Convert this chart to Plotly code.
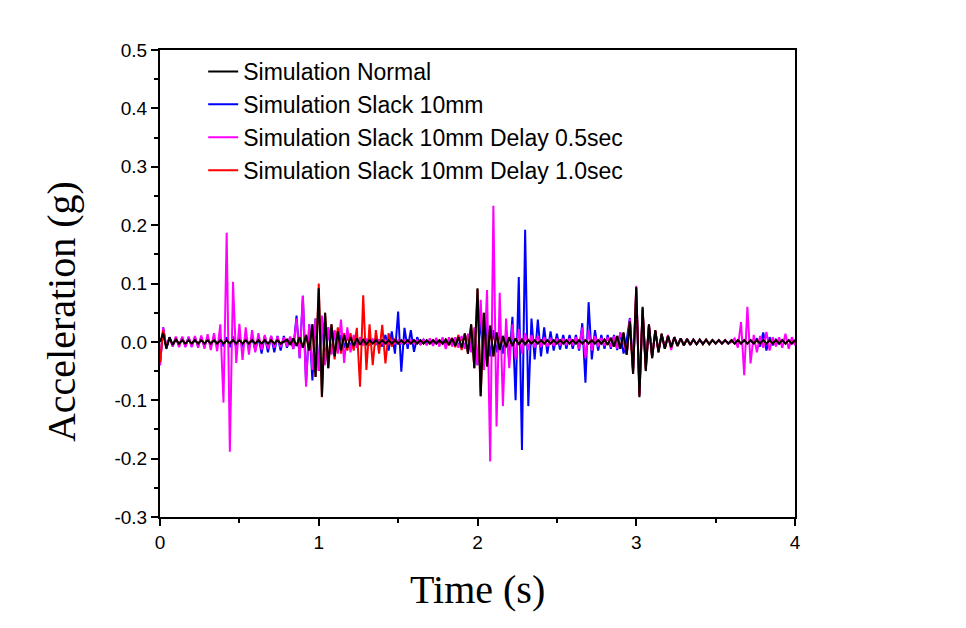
import numpy as np
import plotly.graph_objects as go

# Sample times (s): uniform 0.02 s grid from 0 to 4 s (201 samples)
time_s = np.linspace(0, 4, 201)

# Accelerations in milli-g, one value per 0.02 s sample
normal_mg = [
    0, 15, -12, 8, -5, 4, -3, 3, -3, 3,
    -3, 3, -3, 3, -3, 3, -3, 3, -3, 3,
    -3, 3, -3, 3, -3, 3, -3, 3, -3, 3,
    -3, 3, -3, 3, -3, 3, -3, 3, -3, 0,
    4, -5, 6, -7, 8, -10, 12, -15, 30, -60,
    92, -94, 50, -45, 30, -25, 18, -15, 12, -10,
    8, -7, 6, -5, 4, -4, 3, -3, 3, -3,
    3, -3, 3, -3, 3, -3, 3, -3, 3, -3,
    3, -3, 3, -3, 3, -3, 3, -3, 3, -3,
    4, -5, 6, -7, 8, -10, 14, -20, 30, -45,
    92, -93, 50, -42, 28, -25, 16, -14, 10, -9,
    8, -7, 6, -5, 4, -4, 3, -3, 3, -3,
    3, -3, 3, -3, 3, -3, 3, -3, 3, -3,
    3, -3, 3, -3, 3, -3, 3, -3, 3, -3,
    4, -5, 7, -8, 10, -12, 16, -22, 35, -55,
    94, -95, 60, -50, 30, -28, 20, -18, 14, -12,
    10, -9, 8, -7, 6, -6, 5, -5, 4, -4,
    4, -4, 4, -4, 3, -3, 3, -3, 3, -3,
    3, -3, 3, -3, 3, -3, 3, -3, 3, -3,
    3, -3, 3, -3, 3, -3, 3, -3, 3, -3,
    3,
]

slack_mg = [
    -40, 25, -10, 8, -8, 8, -8, 8, -8, 8,
    -8, 8, -8, 8, -8, 8, -8, 8, -8, 8,
    -8, 8, -9, 9, -9, 9, -9, 9, -9, 9,
    -15, 8, -20, 10, -18, 10, -18, 10, -15, 10,
    -10, 8, -12, 45, -28, 79, -70, 30, -66, 40,
    -50, 40, -35, 25, -20, 18, -15, 12, -10, 10,
    -8, 8, -7, 6, -5, 5, -4, 4, -4, 4,
    -8, 12, -15, 18, -20, 52, -51, 24, -12, 20,
    -17, 8, -5, 4, -3, 3, -3, 3, -3, 3,
    -3, 3, -5, 6, -7, 8, -10, 12, -15, 20,
    -40, 40, -35, 30, -25, 20, -18, 15, -20, 15,
    -31, 43, -100, 111, -185, 192, -110, 40, -30, 38,
    -25, 25, -20, 18, -15, 14, -13, 12, -12, 12,
    -12, 12, -15, 32, -70, 68, -30, 20, -15, 12,
    -12, 12, -12, 12, -14, 16, -20, 4, 41, -50,
    80, -80, 50, -40, 28, -25, 18, -15, 12, -10,
    10, -9, 8, -7, 6, -6, 5, -5, 4, -4,
    3, -3, 3, -3, 3, -3, 3, -3, 3, -3,
    3, -3, 3, -3, 3, -3, 3, -3, 6, -8,
    16, -15, 8, -6, 4, -3, 3, -3, 3, -3,
    3,
]

delay05_mg = [
    -40, 25, -10, 8, -8, 9, -9, 9, -9, 9,
    -9, 10, -10, 11, -12, 13, -14, 15, -16, 30,
    -104, 187, -188, 103, -36, 31, -31, 25, -22, 20,
    -18, 15, -14, 12, -12, 10, -10, 9, -9, 8,
    -8, 9, -12, 40, -28, 79, -77, 30, -48, 40,
    -50, 45, -40, 25, -22, 20, -20, 38, -36, 25,
    -18, 12, -10, 8, -6, 5, -4, 4, -3, 3,
    -3, 3, -3, 3, -3, 3, -3, 3, -3, 3,
    -3, 3, -4, 4, -6, 6, -7, 7, -8, 8,
    -12, 8, -8, 8, -10, 10, -12, 14, -18, 25,
    -40, 72, -48, 89, -205, 233, -145, 84, -110, 40,
    -45, 30, -30, 22, -20, 15, -14, 12, -10, 10,
    -9, 8, -8, 7, -7, 6, -6, 6, -6, 6,
    -6, 8, -12, 25, -28, 20, -15, 10, -8, 7,
    -7, 8, -9, 10, -12, 15, 0, -22, 40, -50,
    96, -90, 55, -45, 28, -25, 18, -16, 12, -10,
    12, -14, 8, -7, 6, -5, 4, -4, 3, -3,
    3, -3, 3, -3, 3, -3, 3, -3, 3, -3,
    0, 6, -10, 34, -57, 60, -37, 12, -18, 10,
    -10, 17, -15, 8, -8, 8, -10, 14, -12, 8,
    -6,
]

delay10_mg = [
    -35, 20, -10, 6, -5, 4, -3, 3, -3, 3,
    -3, 3, -3, 3, -3, 3, -3, 3, -3, 3,
    -3, 3, -3, 3, -3, 3, -3, 3, -3, 3,
    -3, 3, -3, 3, -3, 3, -3, 3, -3, 0,
    4, -5, 6, -7, 8, -10, 12, -15, 30, -60,
    100, -95, 50, -45, 30, -30, 25, -20, 15, -15,
    15, -15, 24, -77, 80, -48, 30, -40, 20, -20,
    29, -37, 15, -8, 4, -3, 3, -3, 3, -3,
    3, -3, 3, -3, 3, -3, 3, -3, 3, -3,
    4, -6, 7, -9, 12, -14, 15, -20, 30, -45,
    90, -93, 50, -42, 28, -25, 16, -14, 10, -9,
    8, -7, 6, -5, 4, -4, 3, -3, 3, -3,
    3, -3, 3, -3, 3, -3, 3, -3, 3, -3,
    3, -3, 3, -3, 3, -3, 3, -3, 3, -3,
    4, -5, 7, -8, 10, -12, 16, -22, 35, -55,
    92, -93, 58, -48, 30, -28, 20, -18, 14, -12,
    10, -9, 8, -7, 6, -6, 5, -5, 4, -4,
    4, -4, 4, -4, 3, -3, 3, -3, 3, -3,
    3, -3, 3, -3, 3, -3, 3, -3, 3, -3,
    3, -3, 3, -3, 3, -3, 3, -3, 3, -3,
    3,
]

series_names = [
    "Simulation Normal",
    "Simulation Slack 10mm",
    "Simulation Slack 10mm Delay 0.5sec",
    "Simulation Slack 10mm Delay 1.0sec",
]
series_values = [normal_mg, slack_mg, delay05_mg, delay10_mg]
series_colors = ["#000000", "#0000FF", "#FF00FF", "#FF0000"]

# Axis ticks
x_tick_values = [0, 1, 2, 3, 4]
y_tick_values = [-0.3, -0.2, -0.1, 0.0, 0.1, 0.2, 0.3, 0.4, 0.5]
y_tick_labels = ["-0.3", "-0.2", "-0.1", "0.0", "0.1", "0.2", "0.3", "0.4", "0.5"]

# drawing order (bottom to top): slack, delay 0.5, delay 1.0, normal
draw_order = [1, 2, 3, 0]

fig = go.Figure()
for k in draw_order:
    fig.add_trace(go.Scatter(
        x=time_s,
        y=np.array(series_values[k]) / 1000.0,
        mode="lines",
        name=series_names[k],
        line=dict(color=series_colors[k], width=2),
        legendrank=k + 1,
    ))

tick_font = dict(family="Liberation Sans, Arial, sans-serif", size=19, color="black")
title_font = dict(family="Liberation Serif, Times New Roman, serif", size=40, color="black")

fig.update_layout(
    width=966, height=628,
    paper_bgcolor="white", plot_bgcolor="white",
    margin=dict(l=152, r=179, t=42, b=119),
    showlegend=True,
    legend=dict(
        x=0.068, y=1.0, xanchor="left", yanchor="top",
        font=dict(family="Liberation Sans, Arial, sans-serif", size=23, color="black"),
        bgcolor="rgba(0,0,0,0)", borderwidth=0,
        traceorder="normal",
    ),
    xaxis=dict(
        range=[0, 4], tickmode="array", tickvals=x_tick_values,
        ticks="outside", ticklen=7, tickwidth=1.5, tickcolor="black",
        minor=dict(tickmode="linear", tick0=0, dtick=0.5, ticks="outside", ticklen=4, tickwidth=1.5, tickcolor="black"),
        showline=True, linewidth=2, linecolor="black", mirror=True,
        showgrid=False, zeroline=False, tickfont=tick_font,
    ),
    yaxis=dict(
        range=[-0.3, 0.5], tickmode="array", tickvals=y_tick_values, ticktext=y_tick_labels,
        ticks="outside", ticklen=7, tickwidth=1.5, tickcolor="black",
        minor=dict(tickmode="linear", tick0=-0.3, dtick=0.05, ticks="outside", ticklen=4, tickwidth=1.5, tickcolor="black"),
        showline=True, linewidth=2, linecolor="black", mirror=True,
        showgrid=False, zeroline=False, tickfont=tick_font,
    ),
    annotations=[
        dict(text="Time (s)", xref="paper", yref="paper", x=0.5, y=-0.156,
             xanchor="center", yanchor="middle", showarrow=False, font=title_font),
        dict(text="Acceleration (g)", xref="paper", yref="paper", x=-0.155, y=0.44,
             xanchor="center", yanchor="middle", textangle=-90, showarrow=False, font=title_font),
    ],
)

fig.write_html("out.html")
